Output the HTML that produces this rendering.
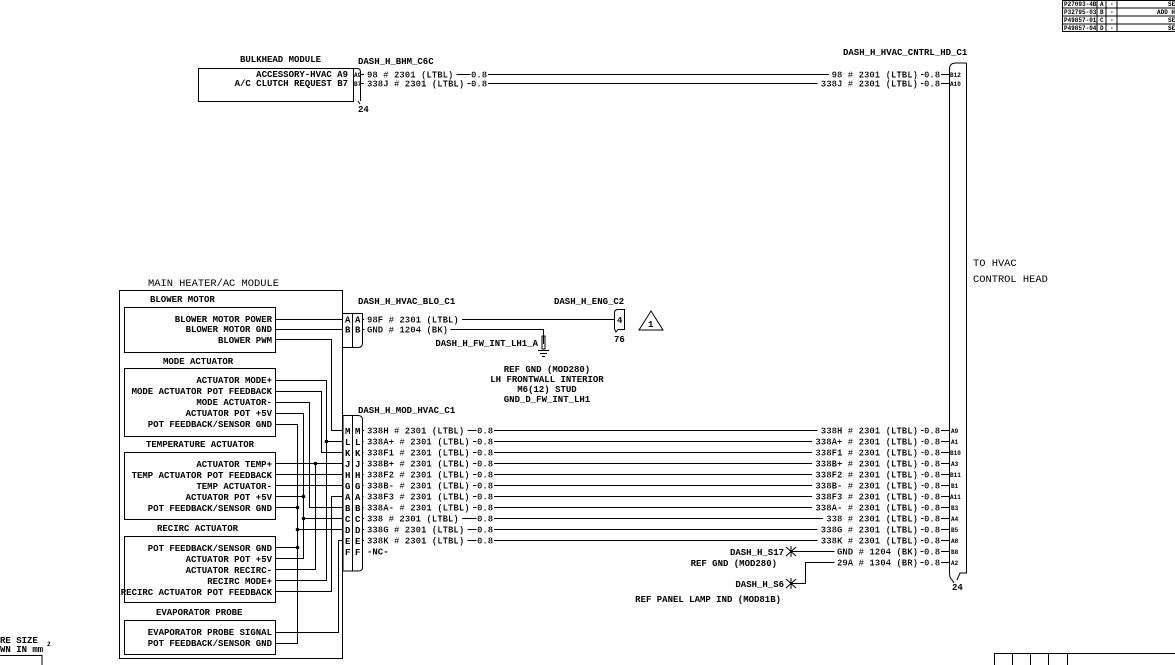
<!DOCTYPE html>
<html><head><meta charset="utf-8"><style>
html,body{margin:0;padding:0;background:#fff;width:1175px;height:665px;overflow:hidden}
svg{display:block}
text{font-family:"Liberation Mono",monospace;font-size:9px;fill:#000;font-weight:bold}
.h{filter:url(#bg)}
.big{font-size:10.4px;font-weight:normal}
.sm{font-size:6px}
line,polyline,rect,path{stroke:#000;stroke-width:1;fill:none}
.g{stroke:#444}
</style></head><body>
<svg width="1175" height="665" viewBox="0 0 1175 665" xmlns="http://www.w3.org/2000/svg">
<defs><filter id="bg" x="-0.03" y="0" width="1.06" height="1"><feFlood flood-color="#fff"/><feComposite in="SourceGraphic"/></filter></defs>
<!-- revision table -->
<rect x="1062.5" y="0.5" width="113" height="31" stroke-width="1"/>
<line x1="1062" y1="8" x2="1175" y2="8"/><line x1="1062" y1="16" x2="1175" y2="16"/><line x1="1062" y1="24" x2="1175" y2="24"/>
<line x1="1097" y1="0" x2="1097" y2="32"/><line x1="1106" y1="0" x2="1106" y2="32"/><line x1="1117" y1="0" x2="1117" y2="32"/>
<text class="sm" x="1064" y="6">P27093-4B</text><text class="sm" x="1064" y="14">P32795-03</text><text class="sm" x="1064" y="22">P49857-01</text><text class="sm" x="1064" y="30">P49857-04</text>
<text class="sm" x="1100" y="6">A</text><text class="sm" x="1100" y="14">B</text><text class="sm" x="1100" y="22">C</text><text class="sm" x="1100" y="30">D</text>
<text class="sm" x="1110" y="6">-</text><text class="sm" x="1110" y="14">-</text><text class="sm" x="1110" y="22">-</text><text class="sm" x="1110" y="30">-</text>
<text class="sm" x="1168" y="6">SE</text><text class="sm" x="1157" y="14">ADD HA</text><text class="sm" x="1168" y="22">SE</text><text class="sm" x="1168" y="30">SE</text>

<!-- bulkhead -->
<text x="240" y="62">BULKHEAD MODULE</text>
<text x="358" y="64">DASH_H_BHM_C6C</text>
<rect x="198.5" y="68.5" width="155" height="33"/>
<path d="M353.5 68.5 H357 Q360.5 68.5 360.5 72 V101"/>
<line x1="358" y1="101" x2="360" y2="104"/>
<text x="348" y="77" text-anchor="end">ACCESSORY-HVAC A9</text>
<text x="348" y="86" text-anchor="end">A/C CLUTCH REQUEST B7</text>
<text class="sm" x="354" y="77">A9</text><text class="sm" x="354" y="86">B7</text>
<text x="358" y="112">24</text>
<line x1="360" y1="74.5" x2="950" y2="74.5"/>
<line x1="360" y1="83.5" x2="950" y2="83.5"/>
<text class="h" x="367" y="77.5">98 # 2301 (LTBL)</text><text class="h" x="471" y="77.5">0.8</text>
<text class="h" x="367" y="86.5">338J # 2301 (LTBL)</text><text class="h" x="471" y="86.5">0.8</text>
<text class="h" x="831.6" y="77.5">98 # 2301 (LTBL)</text><text class="h" x="924" y="77.5">0.8</text>
<text class="h" x="820.8" y="86.5">338J # 2301 (LTBL)</text><text class="h" x="924" y="86.5">0.8</text>
<text class="sm" x="950" y="77">B12</text><text class="sm" x="950" y="86">A10</text>

<!-- HVAC control head connector -->
<text x="843" y="55">DASH_H_HVAC_CNTRL_HD_C1</text>
<path d="M966.5 63 V573 H960 L957 580 M949.5 573 V69 Q949.5 63 956 63 H966.5"/>
<path d="M949.5 573 Q949.5 578 952 580 L954 583"/>
<text x="952" y="590">24</text>
<text class="big" x="973" y="266">TO HVAC</text>
<text class="big" x="973" y="282">CONTROL HEAD</text>

<!-- main module -->
<text class="big" x="148" y="286">MAIN HEATER/AC MODULE</text>
<rect x="119.5" y="290.5" width="223" height="368"/>
<text x="150" y="302">BLOWER MOTOR</text>
<rect x="124.5" y="307.5" width="151" height="45"/>
<text x="272" y="322" text-anchor="end">BLOWER MOTOR POWER</text>
<text x="272" y="332" text-anchor="end">BLOWER MOTOR GND</text>
<text x="272" y="343" text-anchor="end">BLOWER PWM</text>
<text x="163" y="364">MODE ACTUATOR</text>
<rect x="124.5" y="368.5" width="151" height="68"/>
<text x="272" y="383" text-anchor="end">ACTUATOR MODE+</text>
<text x="272" y="394" text-anchor="end">MODE ACTUATOR POT FEEDBACK</text>
<text x="272" y="405" text-anchor="end">MODE ACTUATOR-</text>
<text x="272" y="416" text-anchor="end">ACTUATOR POT +5V</text>
<text x="272" y="427" text-anchor="end">POT FEEDBACK/SENSOR GND</text>
<text x="146" y="447">TEMPERATURE ACTUATOR</text>
<rect x="124.5" y="452.5" width="151" height="67"/>
<text x="272" y="467" text-anchor="end">ACTUATOR TEMP+</text>
<text x="272" y="478" text-anchor="end">TEMP ACTUATOR POT FEEDBACK</text>
<text x="272" y="489" text-anchor="end">TEMP ACTUATOR-</text>
<text x="272" y="500" text-anchor="end">ACTUATOR POT +5V</text>
<text x="272" y="511" text-anchor="end">POT FEEDBACK/SENSOR GND</text>
<text x="157" y="531">RECIRC  ACTUATOR</text>
<rect x="124.5" y="536.5" width="151" height="66"/>
<text x="272" y="551" text-anchor="end">POT FEEDBACK/SENSOR GND</text>
<text x="272" y="562" text-anchor="end">ACTUATOR POT +5V</text>
<text x="272" y="573" text-anchor="end">ACTUATOR RECIRC-</text>
<text x="272" y="584" text-anchor="end">RECIRC MODE+</text>
<text x="272" y="595" text-anchor="end">RECIRC ACTUATOR POT FEEDBACK</text>
<text x="156" y="615">EVAPORATOR PROBE</text>
<rect x="124.5" y="620.5" width="151" height="34"/>
<text x="272" y="635" text-anchor="end">EVAPORATOR PROBE SIGNAL</text>
<text x="272" y="646" text-anchor="end">POT FEEDBACK/SENSOR GND</text>

<!-- internal routing -->
<g class="g">
<line x1="275" y1="319.5" x2="343" y2="319.5"/>
<line x1="275" y1="329.5" x2="343" y2="329.5"/>
<polyline points="275,339.5 331.5,339.5 331.5,430.5 343,430.5"/>
<polyline points="275,380.5 326.5,380.5 326.5,580.5 275,580.5"/>
<line x1="326" y1="441.5" x2="343" y2="441.5"/>
<polyline points="275,391.5 321.5,391.5 321.5,452.5 343,452.5"/>
<polyline points="275,402.5 309.5,402.5 309.5,507.5 343,507.5"/>
<polyline points="275,413.5 303.5,413.5 303.5,558.5 275,558.5"/>
<polyline points="275,424.5 297.5,424.5 297.5,643.5 275,643.5"/>
<line x1="275" y1="463.5" x2="343" y2="463.5"/>
<polyline points="315.5,463.5 315.5,569.5 275,569.5"/>
<line x1="275" y1="474.5" x2="343" y2="474.5"/>
<line x1="275" y1="485.5" x2="343" y2="485.5"/>
<line x1="275" y1="496.5" x2="303" y2="496.5"/>
<polyline points="343,496.5 331.5,496.5 331.5,591.5 275,591.5"/>
<line x1="275" y1="507.5" x2="297" y2="507.5"/>
<line x1="303" y1="518.5" x2="343" y2="518.5"/>
<line x1="297" y1="529.5" x2="343" y2="529.5"/>
<line x1="275" y1="547.5" x2="297" y2="547.5"/>
<polyline points="343,540.5 338.5,540.5 338.5,632.5 275,632.5"/>
</g>
<g fill="#000" stroke="none">
<circle cx="326.5" cy="441.5" r="1.8"/><circle cx="315.5" cy="463.5" r="1.8"/>
<circle cx="303.5" cy="496.5" r="1.8"/><circle cx="303.5" cy="518.5" r="1.8"/>
<circle cx="297.5" cy="507.5" r="1.8"/><circle cx="297.5" cy="529.5" r="1.8"/><circle cx="297.5" cy="547.5" r="1.8"/>
</g>

<!-- blower connector -->
<text x="358" y="304">DASH_H_HVAC_BLO_C1</text>
<path d="M343 313.5 H362.5 V343 Q362.5 347.5 358 347.5 H343"/>
<line x1="352.5" y1="313" x2="352.5" y2="348"/>
<text x="345" y="322.5">A</text><text x="355" y="322.5">A</text>
<text x="345" y="332.5">B</text><text x="355" y="332.5">B</text>
<line x1="363" y1="319.5" x2="614" y2="319.5"/>
<polyline points="363,329.5 543.5,329.5 543.5,344"/>
<text class="h" x="367" y="322.5">98F # 2301 (LTBL)</text>
<text class="h" x="367" y="332.5">GND # 1204 (BK)</text>
<rect x="542" y="336" width="3" height="13" fill="#000"/>
<line x1="538" y1="350.5" x2="549" y2="350.5"/><line x1="540" y1="353.5" x2="547" y2="353.5"/><line x1="542" y1="356.5" x2="545" y2="356.5"/>
<text x="538" y="346" text-anchor="end">DASH_H_FW_INT_LH1_A</text>
<text x="547" y="372" text-anchor="middle">REF GND (MOD280)</text>
<text x="547" y="382" text-anchor="middle">LH FRONTWALL INTERIOR</text>
<text x="547" y="392" text-anchor="middle">M6(12) STUD</text>
<text x="547" y="402" text-anchor="middle">GND_D_FW_INT_LH1</text>
<text x="554" y="304">DASH_H_ENG_C2</text>
<path d="M624.5 309.5 V329.5 H618 L616 332 L614.5 329 V313 Q614.5 309.5 618 309.5 Z"/>
<text x="617" y="323">4</text>
<text x="614" y="342">76</text>
<path d="M651 311 L663 330 H639 Z"/>
<text x="648" y="327">1</text>

<!-- MOD connector -->
<text x="358" y="413">DASH_H_MOD_HVAC_C1</text>
<path d="M343 415.5 H358 Q362.5 415.5 362.5 420 V568 Q362.5 571 358 571 H343 V415.5"/>
<line x1="352.5" y1="415" x2="352.5" y2="571"/>
<g>
<text x="345" y="434">M</text><text x="355" y="434">M</text>
<text x="345" y="445">L</text><text x="355" y="445">L</text>
<text x="345" y="456">K</text><text x="355" y="456">K</text>
<text x="345" y="467">J</text><text x="355" y="467">J</text>
<text x="345" y="478">H</text><text x="355" y="478">H</text>
<text x="345" y="489">G</text><text x="355" y="489">G</text>
<text x="345" y="500">A</text><text x="355" y="500">A</text>
<text x="345" y="511">B</text><text x="355" y="511">B</text>
<text x="345" y="522">C</text><text x="355" y="522">C</text>
<text x="345" y="533">D</text><text x="355" y="533">D</text>
<text x="345" y="544">E</text><text x="355" y="544">E</text>
<text x="345" y="555">F</text><text x="355" y="555">F</text>
</g>
<g>
<line x1="363" y1="430.5" x2="950" y2="430.5"/>
<line x1="363" y1="441.5" x2="950" y2="441.5"/>
<line x1="363" y1="452.5" x2="950" y2="452.5"/>
<line x1="363" y1="463.5" x2="950" y2="463.5"/>
<line x1="363" y1="474.5" x2="950" y2="474.5"/>
<line x1="363" y1="485.5" x2="950" y2="485.5"/>
<line x1="363" y1="496.5" x2="950" y2="496.5"/>
<line x1="363" y1="507.5" x2="950" y2="507.5"/>
<line x1="363" y1="518.5" x2="950" y2="518.5"/>
<line x1="363" y1="529.5" x2="950" y2="529.5"/>
<line x1="363" y1="540.5" x2="950" y2="540.5"/>
</g>
<g>
<text class="h" x="367" y="433.5">338H # 2301 (LTBL)</text><text class="h" x="477" y="433.5">0.8</text>
<text class="h" x="367" y="444.5">338A+ # 2301 (LTBL)</text><text class="h" x="477" y="444.5">0.8</text>
<text class="h" x="367" y="455.5">338F1 # 2301 (LTBL)</text><text class="h" x="477" y="455.5">0.8</text>
<text class="h" x="367" y="466.5">338B+ # 2301 (LTBL)</text><text class="h" x="477" y="466.5">0.8</text>
<text class="h" x="367" y="477.5">338F2 # 2301 (LTBL)</text><text class="h" x="477" y="477.5">0.8</text>
<text class="h" x="367" y="488.5">338B- # 2301 (LTBL)</text><text class="h" x="477" y="488.5">0.8</text>
<text class="h" x="367" y="499.5">338F3 # 2301 (LTBL)</text><text class="h" x="477" y="499.5">0.8</text>
<text class="h" x="367" y="510.5">338A- # 2301 (LTBL)</text><text class="h" x="477" y="510.5">0.8</text>
<text class="h" x="367" y="521.5">338 # 2301 (LTBL)</text><text class="h" x="477" y="521.5">0.8</text>
<text class="h" x="367" y="532.5">338G # 2301 (LTBL)</text><text class="h" x="477" y="532.5">0.8</text>
<text class="h" x="367" y="543.5">338K # 2301 (LTBL)</text><text class="h" x="477" y="543.5">0.8</text>
<text x="367" y="554.5">-NC-</text>

<text class="h" x="820.8" y="433.5">338H # 2301 (LTBL)</text><text class="h" x="924" y="433.5">0.8</text>
<text class="h" x="815.4" y="444.5">338A+ # 2301 (LTBL)</text><text class="h" x="924" y="444.5">0.8</text>
<text class="h" x="815.4" y="455.5">338F1 # 2301 (LTBL)</text><text class="h" x="924" y="455.5">0.8</text>
<text class="h" x="815.4" y="466.5">338B+ # 2301 (LTBL)</text><text class="h" x="924" y="466.5">0.8</text>
<text class="h" x="815.4" y="477.5">338F2 # 2301 (LTBL)</text><text class="h" x="924" y="477.5">0.8</text>
<text class="h" x="815.4" y="488.5">338B- # 2301 (LTBL)</text><text class="h" x="924" y="488.5">0.8</text>
<text class="h" x="815.4" y="499.5">338F3 # 2301 (LTBL)</text><text class="h" x="924" y="499.5">0.8</text>
<text class="h" x="815.4" y="510.5">338A- # 2301 (LTBL)</text><text class="h" x="924" y="510.5">0.8</text>
<text class="h" x="826.2" y="521.5">338 # 2301 (LTBL)</text><text class="h" x="924" y="521.5">0.8</text>
<text class="h" x="820.8" y="532.5">338G # 2301 (LTBL)</text><text class="h" x="924" y="532.5">0.8</text>
<text class="h" x="820.8" y="543.5">338K # 2301 (LTBL)</text><text class="h" x="924" y="543.5">0.8</text>
</g>
<g>
<text class="sm" x="951" y="433">A9</text><text class="sm" x="951" y="444">A1</text><text class="sm" x="950" y="455">B10</text>
<text class="sm" x="951" y="466">A3</text><text class="sm" x="950" y="477">B11</text><text class="sm" x="951" y="488">B1</text>
<text class="sm" x="950" y="499">A11</text><text class="sm" x="951" y="510">B3</text><text class="sm" x="951" y="521">A4</text>
<text class="sm" x="951" y="532">B5</text><text class="sm" x="951" y="543">A8</text><text class="sm" x="951" y="554">B8</text>
<text class="sm" x="951" y="565">A2</text>
</g>
<!-- splices -->
<line x1="792" y1="551.5" x2="950" y2="551.5"/>
<polyline points="792,583.5 805.5,583.5 805.5,562.5 950,562.5"/>
<text class="h" x="837" y="554.5">GND # 1204 (BK)</text><text class="h" x="924" y="554.5">0.8</text>
<text class="h" x="837" y="565.5">29A # 1304 (BR)</text><text class="h" x="924" y="565.5">0.8</text>
<g stroke-width="1.3"><line x1="786" y1="547" x2="796" y2="556"/><line x1="786" y1="556" x2="796" y2="547"/><line x1="791" y1="546" x2="791" y2="557"/>
<line x1="786" y1="579" x2="796" y2="588"/><line x1="786" y1="588" x2="796" y2="579"/><line x1="791" y1="578" x2="791" y2="589"/></g>
<text x="784" y="555" text-anchor="end">DASH_H_S17</text>
<text x="777" y="566" text-anchor="end">REF GND (MOD280)</text>
<text x="784" y="587" text-anchor="end">DASH_H_S6</text>
<text x="781" y="602" text-anchor="end">REF PANEL LAMP IND (MOD81B)</text>

<!-- bottom corners -->
<text x="0" y="643">RE SIZE</text>
<text x="0" y="652">WN IN mm</text><text class="sm" x="47" y="646">2</text>
<rect x="-2" y="655.5" width="44" height="12"/>
<rect x="994.5" y="653.5" width="185" height="14"/>
<line x1="1012.5" y1="653" x2="1012.5" y2="665"/><line x1="1030.5" y1="653" x2="1030.5" y2="665"/>
<line x1="1048.5" y1="653" x2="1048.5" y2="665"/><line x1="1067.5" y1="653" x2="1067.5" y2="665"/>
</svg>
</body></html>
